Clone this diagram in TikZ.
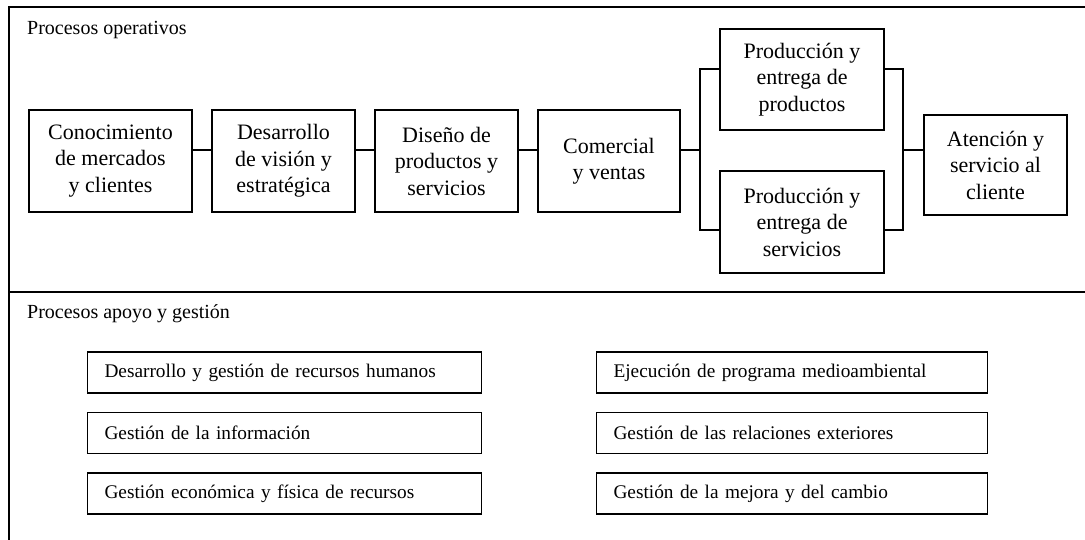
\documentclass[tikz,border=0pt]{standalone}
\usepackage{fontspec}
\setmainfont{Liberation Serif}
\usepackage{tikz}
\usetikzlibrary{positioning}

\tikzset{
	proc/.style={draw, line width=1.1pt, align=center, inner sep=0pt,
		font=\fontsize{22}{26.5}\selectfont},
	support/.style={draw, line width=1.1pt, anchor=west, align=left, inner xsep=17pt,
		inner ysep=0pt, minimum height=41pt, font=\fontsize{19.3}{23}\selectfont},
	title/.style={anchor=base west, inner sep=0pt, font=\fontsize{20}{24}\selectfont},
	link/.style={line width=1.1pt},
}

\begin{document}
\begin{tikzpicture}[x=1pt, y=-1pt]

\def \xw{1085}
\def \xh{540}
\def \xsplit{292}

\useasboundingbox (0,0) rectangle (\xw,\xh);

\draw[link] (\xw,7) -- (9,7) -- (9,\xh); % frame
\draw[link] (9,\xsplit) -- (\xw,\xsplit); % divider

\node[title] (optitle) at (27,35) {Procesos operativos};
\node[title] (suptitle) at (27,318) {Procesos apoyo y gestión};

% main chain
\node[proc, minimum width=163pt, minimum height=102pt] (mercado) at (110.5,161) {Conocimiento\\de mercados\\y clientes};
\node[proc, minimum width=143pt, minimum height=102pt] (vision) at (283.5,161) {Desarrollo\\de visión y\\estratégica};
\node[proc, minimum width=143pt, minimum height=102pt] (diseno) at (446.5,161) {Diseño de\\productos y\\servicios};
\node[proc, minimum width=142pt, minimum height=102pt] (ventas) at (609,161) {Comercial\\y ventas};
\node[proc, minimum width=164pt, minimum height=101pt] (prodp) at (802,79.5) {Producción y\\entrega de\\productos};
\node[proc, minimum width=164pt, minimum height=102pt] (prods) at (802,222) {Producción y\\entrega de\\servicios};
\node[proc, minimum width=143pt, minimum height=100pt] (cliente) at (995.5,165) {Atención y\\servicio al\\cliente};

\coordinate (forkl) at (700,150);
\coordinate (forkr) at (903,150);
\coordinate (ytop) at (0,69);
\coordinate (ybot) at (0,230);

\draw[link] ([yshift=11pt]mercado.east) -- ([yshift=11pt]vision.west);
\draw[link] ([yshift=11pt]vision.east) -- ([yshift=11pt]diseno.west);
\draw[link] ([yshift=11pt]diseno.east) -- ([yshift=11pt]ventas.west);
\draw[link] ([yshift=11pt]ventas.east) -- (forkl);
\draw[link] (prodp.west |- ytop) -| (forkl) |- (prods.west |- ybot); % split
\draw[link] (prodp.east |- ytop) -| (forkr) |- (prods.east |- ybot); % join
\draw[link] (forkr) -- (cliente.west |- forkr);

% support processes
\node[support, text width=360pt] (rrhh) at (87,372.5) {Desarrollo y gestión de recursos humanos};
\node[support, text width=360pt] (info) at (87,433) {Gestión de la información};
\node[support, text width=360pt] (econ) at (87,493.5) {Gestión económica y física de recursos};
\node[support, text width=357pt] (medio) at (596,372.5) {Ejecución de programa medioambiental};
\node[support, text width=357pt] (relac) at (596,433) {Gestión de las relaciones exteriores};
\node[support, text width=357pt] (mejora) at (596,493.5) {Gestión de la mejora y del cambio};

\end{tikzpicture}
\end{document}
